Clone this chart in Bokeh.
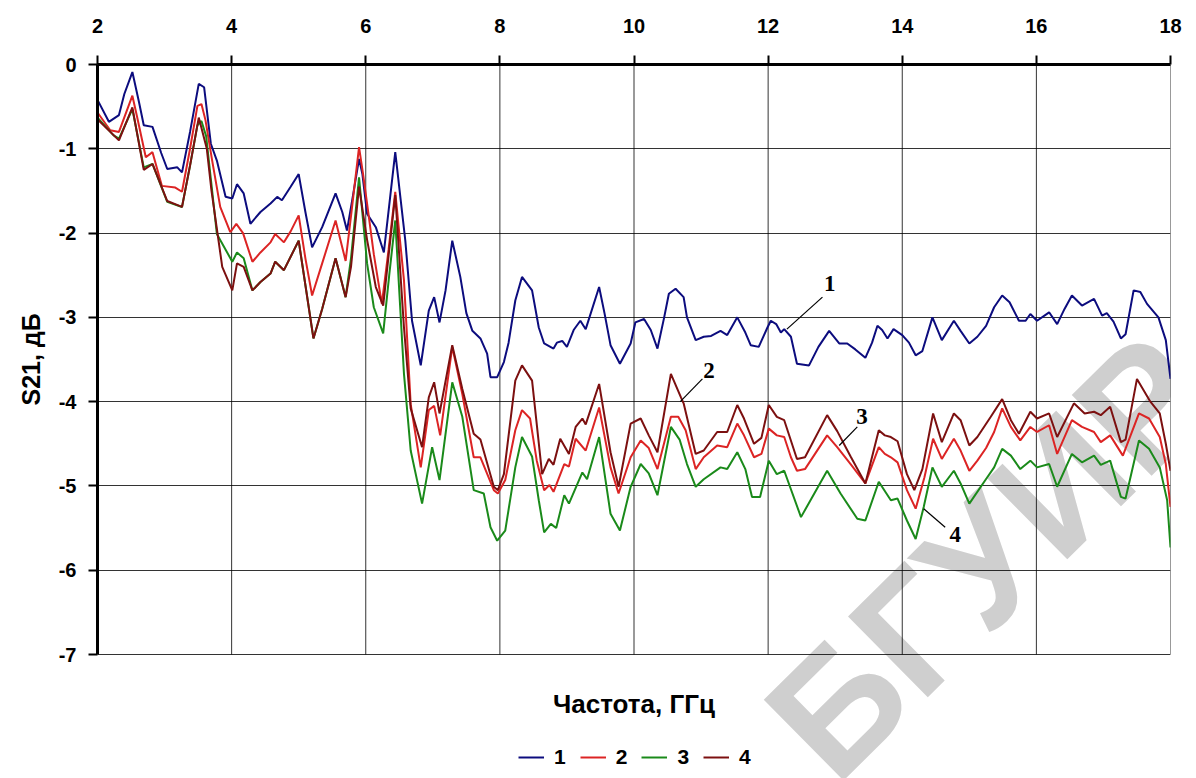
import math
from bokeh.plotting import figure
from bokeh.models import Range1d, FixedTicker, Label, Legend, LegendItem, Title
from bokeh.core.properties import value
from bokeh.embed import file_html
from bokeh.resources import INLINE

# ---------------- data ----------------
x_ticks = [2, 4, 6, 8, 10, 12, 14, 16, 18]
y_ticks = [0, -1, -2, -3, -4, -5, -6, -7]

f1 = [2.00, 2.17, 2.32, 2.40, 2.52, 2.62, 2.69, 2.82, 2.95, 3.04, 3.19, 3.26, 3.38, 3.51, 3.59, 3.69, 3.78, 3.91,
      4.01, 4.08, 4.18, 4.28, 4.43, 4.58, 4.68, 4.75, 4.88, 5.00, 5.10, 5.20, 5.35, 5.55, 5.65, 5.72, 5.80, 5.90,
      5.95, 6.02, 6.15, 6.27, 6.36, 6.44, 6.52, 6.59, 6.69, 6.82, 6.94, 7.02, 7.10, 7.19, 7.29, 7.41, 7.50, 7.59,
      7.71, 7.81, 7.86, 7.96, 8.06, 8.13, 8.23, 8.33, 8.48, 8.58, 8.66, 8.80, 8.85, 8.93, 9.00, 9.10, 9.20, 9.28,
      9.48, 9.56, 9.65, 9.79, 9.95, 10.02, 10.15, 10.25, 10.35, 10.45, 10.52, 10.62, 10.74, 10.79, 10.92, 11.04,
      11.15, 11.29, 11.39, 11.54, 11.66, 11.74, 11.86, 11.99, 12.04, 12.12, 12.19, 12.24, 12.34, 12.43, 12.61,
      12.75, 12.91, 13.06, 13.18, 13.30, 13.45, 13.55, 13.63, 13.70, 13.78, 13.87, 14.00, 14.10, 14.20, 14.30,
      14.45, 14.59, 14.77, 14.87, 15.00, 15.12, 15.25, 15.37, 15.49, 15.60, 15.74, 15.84, 15.91, 16.01, 16.19,
      16.31, 16.42, 16.53, 16.68, 16.86, 16.98, 17.05, 17.15, 17.26, 17.33, 17.45, 17.55, 17.65, 17.82, 17.93, 18.00]
s1 = [-0.42, -0.68, -0.60, -0.35, -0.09, -0.45, -0.72, -0.74, -1.05, -1.24, -1.22, -1.28, -0.80, -0.23, -0.27, -0.94, -1.14, -1.57,
      -1.59, -1.42, -1.53, -1.89, -1.75, -1.65, -1.57, -1.61, -1.45, -1.30, -1.75, -2.17, -1.93, -1.53, -1.75, -1.97, -1.60, -1.12,
      -1.30, -1.77, -1.93, -2.23, -1.60, -1.04, -1.60, -2.09, -3.04, -3.57, -2.92, -2.76, -3.06, -2.68, -2.09, -2.52, -2.95, -3.16,
      -3.25, -3.43, -3.71, -3.71, -3.53, -3.30, -2.80, -2.52, -2.68, -3.12, -3.31, -3.37, -3.30, -3.28, -3.35, -3.15, -3.04, -3.14,
      -2.64, -2.95, -3.33, -3.55, -3.31, -3.06, -3.02, -3.15, -3.37, -3.00, -2.72, -2.66, -2.76, -3.00, -3.27, -3.23,
      -3.22, -3.16, -3.21, -3.00, -3.18, -3.33, -3.35, -3.12, -3.04, -3.08, -3.18, -3.14, -3.23, -3.55, -3.57,
      -3.35, -3.16, -3.31, -3.31, -3.38, -3.48, -3.30, -3.10, -3.15, -3.25, -3.14, -3.21, -3.30, -3.45, -3.40,
      -3.00, -3.27, -3.04, -3.16, -3.31, -3.23, -3.10, -2.88, -2.74, -2.82, -3.04, -3.04, -2.96, -3.04, -2.94,
      -3.08, -2.90, -2.74, -2.86, -2.78, -2.98, -2.95, -3.05, -3.25, -3.20, -2.68, -2.70, -2.84, -3.00, -3.27, -3.73]

f2 = [2.00, 2.19, 2.32, 2.52, 2.59, 2.72, 2.82, 2.96, 3.16, 3.26, 3.38, 3.49, 3.55, 3.61, 3.71, 3.83, 3.98, 4.07,
      4.17, 4.31, 4.43, 4.58, 4.65, 4.78, 4.88, 5.00, 5.10, 5.20, 5.35, 5.55, 5.70, 5.78, 5.90, 5.96, 6.02, 6.12,
      6.24, 6.34, 6.44, 6.50, 6.57, 6.67, 6.82, 6.94, 7.02, 7.11, 7.29, 7.44, 7.61, 7.71, 7.91, 7.97, 8.08, 8.23,
      8.33, 8.45, 8.55, 8.66, 8.74, 8.80, 8.96, 9.03, 9.13, 9.28, 9.48, 9.65, 9.77, 9.95, 10.10, 10.22, 10.35,
      10.55, 10.66, 10.77, 10.92, 11.04, 11.24, 11.39, 11.54, 11.64, 11.79, 11.90, 12.01, 12.13, 12.24, 12.34,
      12.43, 12.55, 12.88, 13.03, 13.23, 13.45, 13.65, 13.74, 13.83, 13.93, 14.07, 14.20, 14.33, 14.46, 14.59,
      14.77, 14.87, 15.00, 15.12, 15.25, 15.37, 15.49, 15.62, 15.76, 15.91, 16.01, 16.19, 16.31, 16.53, 16.68,
      16.86, 16.96, 17.10, 17.29, 17.53, 17.68, 17.84, 17.93, 18.00]
s2 = [-0.57, -0.78, -0.80, -0.37, -0.62, -1.10, -1.04, -1.44, -1.46, -1.51, -1.00, -0.49, -0.47, -0.66, -1.14, -1.69, -1.99, -1.89,
      -2.00, -2.34, -2.23, -2.11, -2.01, -2.11, -1.98, -1.79, -2.30, -2.74, -2.36, -1.85, -2.33, -1.80, -0.98, -1.30, -1.65, -2.25,
      -2.84, -2.20, -1.51, -2.00, -2.56, -4.03, -4.78, -4.10, -4.05, -4.40, -3.35, -3.91, -4.66, -4.66, -5.05, -5.09, -4.93, -4.34,
      -4.10, -4.20, -4.70, -5.05, -4.99, -5.07, -4.74, -4.77, -4.44, -4.58, -4.07, -4.78, -5.09, -4.66, -4.46, -4.55, -4.80,
      -4.18, -4.18, -4.34, -4.80, -4.66, -4.52, -4.54, -4.26, -4.40, -4.66, -4.62, -4.32, -4.40, -4.42, -4.66,
      -4.82, -4.80, -4.40, -4.54, -4.74, -4.97, -4.54, -4.62, -4.66, -4.72, -5.05, -5.27, -4.90, -4.44, -4.68,
      -4.44, -4.58, -4.82, -4.70, -4.55, -4.36, -4.08, -4.30, -4.46, -4.30, -4.36, -4.28, -4.62, -4.22, -4.30,
      -4.36, -4.48, -4.40, -4.64, -4.14, -4.20, -4.42, -4.74, -5.25]

f3 = [2.00, 2.24, 2.32, 2.52, 2.69, 2.82, 3.04, 3.26, 3.38, 3.49, 3.55, 3.62, 3.78, 4.01, 4.08, 4.18, 4.31, 4.43,
      4.58, 4.65, 4.78, 5.00, 5.22, 5.35, 5.55, 5.70, 5.78, 5.90, 6.02, 6.12, 6.26, 6.35, 6.44, 6.57, 6.67, 6.84,
      6.99, 7.10, 7.29, 7.44, 7.61, 7.76, 7.86, 7.96, 8.08, 8.23, 8.33, 8.48, 8.58, 8.66, 8.76, 8.84, 8.96, 9.03,
      9.23, 9.30, 9.48, 9.65, 9.79, 9.95, 10.10, 10.22, 10.35, 10.55, 10.68, 10.79, 10.92, 11.04, 11.29, 11.39,
      11.54, 11.66, 11.76, 11.88, 12.01, 12.13, 12.24, 12.49, 12.88, 13.08, 13.33, 13.45, 13.65, 13.83, 13.93,
      14.07, 14.20, 14.32, 14.45, 14.59, 14.77, 14.87, 15.00, 15.24, 15.37, 15.49, 15.62, 15.76, 15.91, 16.01,
      16.19, 16.31, 16.53, 16.68, 16.86, 16.96, 17.10, 17.26, 17.33, 17.53, 17.68, 17.84, 17.95, 18.00]
s3 = [-0.63, -0.84, -0.88, -0.53, -1.22, -1.18, -1.63, -1.69, -1.20, -0.72, -0.67, -0.85, -2.01, -2.34, -2.23, -2.30, -2.68, -2.58,
      -2.48, -2.34, -2.44, -2.09, -3.25, -2.90, -2.30, -2.76, -2.30, -1.34, -2.36, -2.88, -3.19, -2.50, -1.85, -3.67, -4.58, -5.21,
      -4.54, -4.93, -3.77, -4.18, -5.05, -5.09, -5.49, -5.65, -5.53, -4.78, -4.42, -4.65, -5.17, -5.55, -5.45, -5.50, -5.11, -5.21,
      -4.84, -4.92, -4.42, -5.33, -5.53, -5.01, -4.74, -4.85, -5.11, -4.30, -4.45, -4.74, -5.01, -4.92, -4.78, -4.80,
      -4.60, -4.80, -5.13, -5.13, -4.70, -4.86, -4.82, -5.37, -4.82, -5.09, -5.39, -5.41, -4.95, -5.17, -5.15,
      -5.41, -5.63, -5.25, -4.78, -5.01, -4.82, -4.97, -5.21, -4.93, -4.78, -4.56, -4.64, -4.80, -4.70, -4.78,
      -4.74, -5.01, -4.62, -4.72, -4.64, -4.75, -4.70, -5.13, -5.15, -4.46, -4.56, -4.78, -5.17, -5.73]

f4 = [2.00, 2.32, 2.52, 2.69, 2.82, 3.04, 3.26, 3.38, 3.51, 3.63, 3.70, 3.86, 4.01, 4.08, 4.18, 4.31, 4.43, 4.58,
      4.65, 4.78, 5.00, 5.22, 5.35, 5.55, 5.70, 5.78, 5.90, 6.02, 6.15, 6.26, 6.35, 6.44, 6.57, 6.67, 6.84, 6.94,
      7.02, 7.10, 7.29, 7.44, 7.61, 7.71, 7.91, 7.97, 8.06, 8.23, 8.33, 8.48, 8.63, 8.73, 8.80, 8.90, 9.03, 9.13,
      9.23, 9.28, 9.48, 9.65, 9.77, 9.95, 10.10, 10.22, 10.35, 10.55, 10.70, 10.74, 10.92, 11.04, 11.24, 11.39,
      11.54, 11.64, 11.79, 11.90, 12.01, 12.13, 12.24, 12.43, 12.55, 12.88, 13.03, 13.23, 13.45, 13.65, 13.74,
      13.83, 13.93, 14.07, 14.18, 14.30, 14.46, 14.59, 14.77, 14.87, 15.00, 15.12, 15.32, 15.49, 15.62, 15.74,
      15.91, 16.01, 16.19, 16.31, 16.56, 16.72, 16.86, 16.96, 17.10, 17.26, 17.33, 17.50, 17.70, 17.84, 17.93, 18.00]
s4 = [-0.65, -0.90, -0.51, -1.25, -1.18, -1.62, -1.69, -1.20, -0.63, -1.00, -1.50, -2.40, -2.68, -2.36, -2.40, -2.68, -2.58, -2.48,
      -2.34, -2.44, -2.09, -3.25, -2.90, -2.30, -2.76, -2.40, -1.45, -2.08, -2.64, -2.86, -2.20, -1.55, -3.12, -4.08, -4.54, -3.95,
      -3.77, -4.14, -3.33, -3.85, -4.38, -4.45, -5.01, -5.05, -4.86, -3.75, -3.57, -3.75, -4.86, -4.68, -4.75, -4.44, -4.62, -4.30,
      -4.20, -4.27, -3.79, -4.60, -5.01, -4.26, -4.20, -4.40, -4.60, -3.67, -3.95, -4.02, -4.62, -4.58, -4.36, -4.36,
      -4.04, -4.20, -4.50, -4.43, -4.04, -4.18, -4.22, -4.68, -4.66, -4.16, -4.35, -4.65, -4.97, -4.34, -4.40,
      -4.42, -4.47, -4.86, -5.05, -4.80, -4.14, -4.48, -4.14, -4.22, -4.52, -4.42, -4.18, -3.97, -4.22, -4.38,
      -4.12, -4.20, -4.14, -4.42, -4.02, -4.14, -4.12, -4.16, -4.06, -4.48, -4.45, -3.73, -4.00, -4.14, -4.50, -4.82]

series_names = ["1", "2", "3", "4"]
series_colors = ["#0c0c7e", "#dc2424", "#1a8a1a", "#7c1010"]

# curve callouts: label text, label position, leader line start/end
callout_text = ["1", "2", "3", "4"]
callout_x = [12.92, 11.12, 13.40, 14.79]
callout_y = [-2.60, -3.63, -4.18, -5.58]
leader_x0 = [12.81, 11.02, 13.33, 14.64]
leader_y0 = [-2.76, -3.73, -4.30, -5.49]
leader_x1 = [12.28, 10.69, 13.06, 14.32]
leader_y1 = [-3.14, -4.00, -4.52, -5.27]

x_title = "Частота, ГГц"
y_title = "S21, дБ"
watermark = "БГУИР"

# ---------------- figure ----------------
FONT = "Liberation Sans"
Y_BOTTOM = -8.471   # frame reaches the bottom of the canvas so the notes below the chart stay visible
p = figure(width=1196, height=778,
           x_range=Range1d(2, 18), y_range=Range1d(Y_BOTTOM, 0),
           x_axis_location="above",
           output_backend="svg", toolbar_location=None,
           min_border_left=97, min_border_right=26,
           min_border_top=64, min_border_bottom=0)
p.background_fill_color = "white"
p.border_fill_color = "white"
p.outline_line_color = None

# watermark (behind grid)
p.add_layout(Label(x=15.29, y=-5.84, text=watermark, angle=0.78,
                   text_align="center", text_baseline="middle",
                   text_font=FONT, text_font_style="bold", text_font_size="165px",
                   text_color="#cfcfcf", level="image"))

for ax in (p.xaxis, p.yaxis):
    ax.axis_line_width = 3
    ax.axis_line_color = "black"
    ax.major_tick_line_width = 2
    ax.major_tick_line_color = "black"
    ax.major_tick_in = 0
    ax.major_tick_out = 9
    ax.minor_tick_line_color = None
    ax.major_label_text_font = FONT
    ax.major_label_text_font_style = "bold"
    ax.major_label_text_font_size = "20px"
    ax.major_label_text_color = "black"

p.xaxis.ticker = FixedTicker(ticks=x_ticks)
p.yaxis.ticker = FixedTicker(ticks=y_ticks)
p.yaxis.major_label_overrides = {t: str(t) for t in y_ticks}
p.yaxis.bounds = (min(y_ticks), max(y_ticks))
p.xaxis.major_label_standoff = 23
p.yaxis.major_label_standoff = 12

# horizontal grid spans the whole x range; vertical grid drawn only over the value range
p.ygrid.ticker = FixedTicker(ticks=y_ticks)
p.ygrid.grid_line_color = "black"
p.ygrid.grid_line_alpha = 0.8
p.ygrid.grid_line_width = 1
p.xgrid.visible = False
p.segment(x0=x_ticks, y0=[min(y_ticks)] * len(x_ticks), x1=x_ticks, y1=[max(y_ticks)] * len(x_ticks),
          line_color="black", line_alpha=0.8, line_width=1)

renderers = []
for fx, sv, c in zip([f1, f2, f3, f4], [s1, s2, s3, s4], series_colors):
    r = p.line(fx, sv, line_color=c, line_width=2)
    renderers.append(r)

# callouts
p.segment(x0=leader_x0, y0=leader_y0, x1=leader_x1, y1=leader_y1,
          line_color="black", line_width=1.2)
p.text(x=callout_x, y=callout_y, text=callout_text,
       text_font=value("Liberation Serif"), text_font_style="bold",
       text_font_size="23px", text_align="center", text_baseline="middle",
       text_color="black")

# axis titles
p.add_layout(Label(x=10, y=-7.59, text=x_title, text_align="center",
                   text_baseline="middle", text_font=FONT,
                   text_font_style="bold", text_font_size="26px",
                   text_color="black"))
p.add_layout(Title(text=y_title, align="left", offset=373, standoff=22,
                   text_font=FONT, text_font_style="bold",
                   text_font_size="25px", text_color="black"), "left")

legend = Legend(items=[LegendItem(label=n, renderers=[r]) for n, r in zip(series_names, renderers)],
                orientation="horizontal", location=(421, 9),
                glyph_width=26, glyph_height=20, label_standoff=10, spacing=14,
                label_width=11, padding=0, margin=0, border_line_color=None,
                background_fill_alpha=0,
                label_text_font=FONT, label_text_font_style="bold",
                label_text_font_size="21px", label_text_color="black")
p.add_layout(legend, "center")

open("out.html", "w").write(file_html(p, INLINE))
